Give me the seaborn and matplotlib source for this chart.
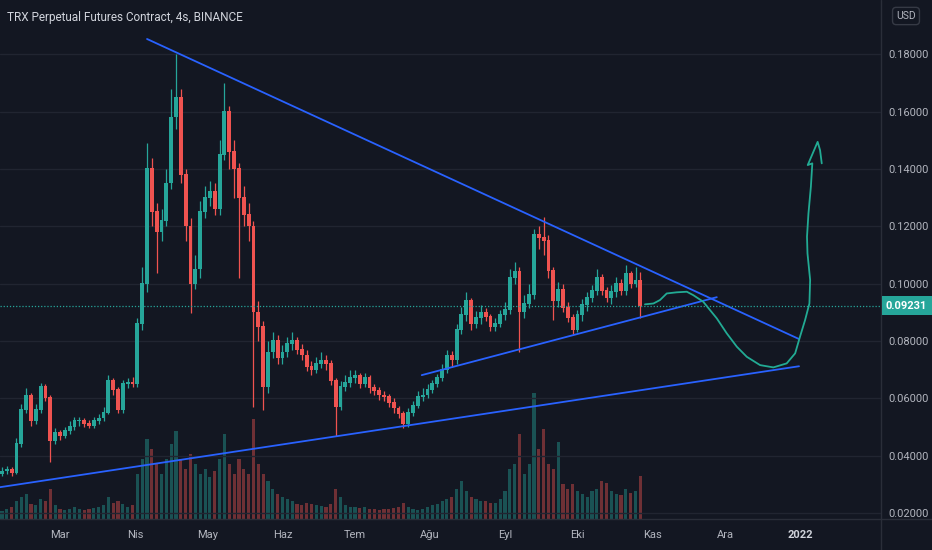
import numpy as np
import pandas as pd
import matplotlib
matplotlib.use('Agg')
import matplotlib.pyplot as plt
import seaborn as sns
from matplotlib.lines import Line2D
from matplotlib.transforms import blended_transform_factory

BG = '#131722'
GRID = '#212531'
TEXT = '#b2b5be'
UP = '#26a69a'
DOWN = '#ef5350'
TREND = '#2962ff'
BRUSH = '#22ab94'

# x axis is "days since 2021-03-01"
base = pd.Timestamp('2021-03-01')
candle_dates = pd.date_range('2021-02-05', periods=133, freq='2D')
candle_day = ((candle_dates - base) / pd.Timedelta(days=1)).to_numpy()

opens = [
    0.0335, 0.0345, 0.0350, 0.0340, 0.0440, 0.0560, 0.0610, 0.0520, 0.0560, 0.0640,
    0.0600, 0.0450, 0.0480, 0.0467, 0.0485, 0.0500, 0.0520, 0.0520, 0.0510, 0.0505,
    0.0520, 0.0530, 0.0550, 0.0660, 0.0630, 0.0560, 0.0650, 0.0655, 0.0650, 0.0860,
    0.1000, 0.1400, 0.1250, 0.1180, 0.1220, 0.1350, 0.1580, 0.1650, 0.1380, 0.1200,
    0.1000, 0.1050, 0.1250, 0.1300, 0.1320, 0.1260, 0.1450, 0.1600, 0.1460, 0.1400,
    0.1300, 0.1240, 0.1200, 0.0900, 0.0850, 0.0640, 0.0760, 0.0800, 0.0740, 0.0760,
    0.0790, 0.0800, 0.0770, 0.0750, 0.0710, 0.0700, 0.0720, 0.0730, 0.0720, 0.0660,
    0.0570, 0.0640, 0.0655, 0.0670, 0.0680, 0.0650, 0.0670, 0.0635, 0.0625, 0.0610,
    0.0605, 0.0585, 0.0565, 0.0545, 0.0510, 0.0550, 0.0575, 0.0605, 0.0610, 0.0630,
    0.0650, 0.0670, 0.0700, 0.0750, 0.0735, 0.0840, 0.0890, 0.0940, 0.0860, 0.0880,
    0.0900, 0.0885, 0.0850, 0.0860, 0.0890, 0.0910, 0.1020, 0.1040, 0.0900, 0.0930,
    0.0960, 0.1170, 0.1160, 0.1150, 0.1045, 0.0940, 0.0980, 0.0915, 0.0880, 0.0840,
    0.0890, 0.0925, 0.0950, 0.0975, 0.1020, 0.0975, 0.0950, 0.0970, 0.1000, 0.0975,
    0.1035, 0.1000, 0.1010]

highs = [
    0.0360, 0.0365, 0.0360, 0.0460, 0.0580, 0.0635, 0.0620, 0.0580, 0.0652, 0.0650,
    0.0610, 0.0495, 0.0490, 0.0500, 0.0520, 0.0535, 0.0535, 0.0530, 0.0525, 0.0535,
    0.0545, 0.0570, 0.0680, 0.0670, 0.0640, 0.0665, 0.0670, 0.0675, 0.0880, 0.1060,
    0.1490, 0.1440, 0.1280, 0.1260, 0.1400, 0.1680, 0.1800, 0.1680, 0.1400, 0.1230,
    0.1100, 0.1290, 0.1340, 0.1360, 0.1350, 0.1500, 0.1700, 0.1620, 0.1500, 0.1420,
    0.1340, 0.1280, 0.1220, 0.0940, 0.0870, 0.0800, 0.0830, 0.0820, 0.0785, 0.0815,
    0.0830, 0.0815, 0.0790, 0.0770, 0.0730, 0.0745, 0.0760, 0.0750, 0.0735, 0.0670,
    0.0660, 0.0680, 0.0700, 0.0700, 0.0690, 0.0690, 0.0680, 0.0650, 0.0640, 0.0625,
    0.0615, 0.0600, 0.0575, 0.0555, 0.0565, 0.0590, 0.0625, 0.0635, 0.0650, 0.0665,
    0.0685, 0.0720, 0.0770, 0.0765, 0.0860, 0.0920, 0.0970, 0.0950, 0.0905, 0.0925,
    0.0915, 0.0895, 0.0880, 0.0910, 0.0935, 0.1050, 0.1075, 0.1060, 0.0960, 0.1000,
    0.1190, 0.1200, 0.1233, 0.1170, 0.1060, 0.1005, 0.1000, 0.0935, 0.0895, 0.0910,
    0.0945, 0.0970, 0.0995, 0.1053, 0.1035, 0.0990, 0.0995, 0.1025, 0.1015, 0.1065,
    0.1045, 0.1058, 0.1040]

lows = [
    0.0330, 0.0335, 0.0330, 0.0335, 0.0430, 0.0550, 0.0505, 0.0510, 0.0550, 0.0590,
    0.0378, 0.0440, 0.0455, 0.0460, 0.0475, 0.0490, 0.0505, 0.0500, 0.0495, 0.0495,
    0.0510, 0.0520, 0.0545, 0.0610, 0.0550, 0.0550, 0.0635, 0.0640, 0.0640, 0.0840,
    0.0970, 0.1200, 0.1037, 0.1150, 0.1200, 0.1330, 0.1540, 0.1350, 0.1150, 0.0898,
    0.0980, 0.1020, 0.1230, 0.1270, 0.1240, 0.1240, 0.1430, 0.1400, 0.1300, 0.1020,
    0.1200, 0.1150, 0.0570, 0.0800, 0.0560, 0.0620, 0.0740, 0.0720, 0.0720, 0.0745,
    0.0770, 0.0755, 0.0735, 0.0695, 0.0680, 0.0690, 0.0705, 0.0700, 0.0645, 0.0470,
    0.0560, 0.0625, 0.0640, 0.0655, 0.0635, 0.0640, 0.0620, 0.0610, 0.0595, 0.0590,
    0.0570, 0.0550, 0.0530, 0.0495, 0.0500, 0.0540, 0.0565, 0.0590, 0.0600, 0.0620,
    0.0640, 0.0660, 0.0690, 0.0710, 0.0720, 0.0825, 0.0870, 0.0840, 0.0845, 0.0860,
    0.0870, 0.0835, 0.0835, 0.0850, 0.0875, 0.0895, 0.1000, 0.0761, 0.0880, 0.0915,
    0.0945, 0.1120, 0.1100, 0.1020, 0.0873, 0.0920, 0.0900, 0.0865, 0.0826, 0.0830,
    0.0870, 0.0905, 0.0935, 0.0960, 0.0960, 0.0935, 0.0930, 0.0955, 0.0960, 0.0960,
    0.0985, 0.0990, 0.0880]

closes = [
    0.0345, 0.0350, 0.0340, 0.0440, 0.0560, 0.0610, 0.0520, 0.0560, 0.0640, 0.0600,
    0.0450, 0.0480, 0.0467, 0.0485, 0.0500, 0.0520, 0.0520, 0.0510, 0.0505, 0.0520,
    0.0530, 0.0550, 0.0660, 0.0630, 0.0560, 0.0650, 0.0655, 0.0650, 0.0860, 0.1000,
    0.1400, 0.1250, 0.1180, 0.1220, 0.1350, 0.1580, 0.1650, 0.1380, 0.1200, 0.1000,
    0.1050, 0.1250, 0.1300, 0.1320, 0.1260, 0.1450, 0.1600, 0.1460, 0.1400, 0.1300,
    0.1240, 0.1200, 0.0900, 0.0850, 0.0640, 0.0760, 0.0800, 0.0740, 0.0760, 0.0790,
    0.0800, 0.0770, 0.0750, 0.0710, 0.0700, 0.0720, 0.0730, 0.0720, 0.0660, 0.0570,
    0.0640, 0.0655, 0.0670, 0.0680, 0.0650, 0.0670, 0.0635, 0.0625, 0.0610, 0.0605,
    0.0585, 0.0565, 0.0545, 0.0510, 0.0550, 0.0575, 0.0605, 0.0610, 0.0630, 0.0650,
    0.0670, 0.0700, 0.0750, 0.0735, 0.0840, 0.0890, 0.0940, 0.0860, 0.0880, 0.0900,
    0.0885, 0.0850, 0.0860, 0.0890, 0.0910, 0.1020, 0.1040, 0.0900, 0.0930, 0.0960,
    0.1170, 0.1160, 0.1150, 0.1045, 0.0940, 0.0980, 0.0915, 0.0880, 0.0840, 0.0890,
    0.0925, 0.0950, 0.0975, 0.1020, 0.0975, 0.0950, 0.0970, 0.1000, 0.0975, 0.1035,
    0.1000, 0.1010, 0.09231]

# volume, arbitrary units (pane is 519 units tall)
volume = [
    8, 10, 12, 18, 22, 25, 15, 14, 20, 18,
    30, 14, 10, 9, 10, 12, 10, 9, 10, 11,
    12, 14, 22, 16, 18, 15, 12, 14, 45, 60,
    80, 70, 55, 45, 60, 75, 88, 60, 50, 65,
    55, 45, 50, 42, 48, 60, 85, 55, 45, 60,
    50, 45, 100, 55, 45, 38, 30, 25, 22, 20,
    18, 15, 14, 16, 15, 14, 13, 12, 15, 30,
    22, 14, 12, 12, 11, 12, 10, 10, 9, 10,
    10, 11, 12, 16, 12, 10, 9, 10, 12, 14,
    15, 18, 20, 22, 30, 38, 28, 22, 20, 18,
    18, 16, 16, 20, 28, 50, 55, 85, 45, 55,
    126, 70, 90, 55, 50, 77, 35, 30, 35, 28,
    25, 22, 28, 30, 38, 36, 28, 25, 24, 30,
    26, 28, 43]

# drawn trend lines: (day, price) end points
upper_day, upper_price = [36.0, 305.6], [0.1854, 0.0807]
support_day, support_price = [-24.8, 305.6], [0.0290, 0.0712]
rising_day, rising_price = [149.6, 271.6], [0.0681, 0.0953]

# hand drawn projection
brush_day = [241.9, 245.4, 248.1, 250.9, 255.0, 259.2, 261.9, 266.0, 271.6, 275.7,
             279.9, 284.0, 289.5, 295.0, 300.5, 304.0, 306.0, 308.1, 309.9, 310.2,
             309.1, 308.9, 309.5, 310.5, 311.1, 309.2, 313.3, 314.3, 315.0]
brush_price = [0.0928, 0.0931, 0.0943, 0.0966, 0.0970, 0.0972, 0.0960, 0.0937, 0.0879, 0.0827,
               0.0780, 0.0745, 0.0716, 0.0708, 0.0722, 0.0757, 0.0815, 0.0873, 0.0931, 0.1013,
               0.1106, 0.1164, 0.1245, 0.1338, 0.1420, 0.1414, 0.1495, 0.1466, 0.1420]

month_day = [0, 31, 61, 92, 122, 153, 184, 214, 245, 275, 306]
month_label = ['Mar', 'Nis', 'May', 'Haz', 'Tem', 'Ağu', 'Eyl', 'Eki', 'Kas', 'Ara', '2022']
price_ticks = [0.02, 0.04, 0.06, 0.08, 0.10, 0.12, 0.14, 0.16, 0.18]

sns.set_theme(style='dark', rc={'axes.facecolor': BG, 'figure.facecolor': BG,
                                'text.color': TEXT, 'xtick.color': TEXT, 'ytick.color': TEXT})
plt.rcParams['font.family'] = ['Roboto', 'Liberation Sans', 'DejaVu Sans']

fig = plt.figure(figsize=(9.32, 5.5), dpi=100)
rect = [0, 31 / 550, 881 / 932, 519 / 550]
ax = fig.add_axes(rect)
ax_vol = ax.twinx()
ax.set_zorder(2)
ax_vol.set_zorder(1)
ax.patch.set_visible(False)
ax_vol.set_facecolor(BG)

o = np.array(opens)
c = np.array(closes)
colors = np.where(c >= o, UP, DOWN)

# volume
ax_vol.bar(candle_day, volume, width=1.3, color=colors, alpha=0.42, linewidth=0)
ax_vol.set_ylim(0, 519)
ax_vol.set_yticks([])
ax_vol.set_xticks(month_day)
ax_vol.grid(axis='x', color=GRID, lw=1)

# grid
for p in price_ticks:
    ax.axhline(p, color=GRID, lw=1, zorder=0)

# candles
ax.vlines(candle_day, lows, highs, colors=colors, lw=0.9)
ax.bar(candle_day, np.abs(c - o) + 0.0003, bottom=np.minimum(o, c), width=1.6,
       color=colors, linewidth=0)

# trend lines
for xs, ys in [(upper_day, upper_price), (support_day, support_price), (rising_day, rising_price)]:
    ax.plot(xs, ys, color=TREND, lw=1.3, solid_capstyle='round')

sns.lineplot(x=brush_day, y=brush_price, sort=False, estimator=None, ax=ax,
             color=BRUSH, lw=1.3)

# last price line and label
last = closes[-1]
ax.axhline(last, color=UP, lw=0.9, ls=(0, (1, 1.5)))
trans = blended_transform_factory(ax.transAxes, ax.transData)
ax.text(1.0 + 5 / 881, last, f'{last:.5f}', transform=trans, ha='left', va='center',
        color='white', fontsize=8, fontweight='bold', clip_on=False,
        bbox=dict(boxstyle='square,pad=0.4', fc=UP, ec='none'))

ax.set_xlim(-24.8, 339.5)
ax.set_ylim(0.0179, 0.199)
ax.set_xticks(month_day)
ax.set_xticklabels(month_label)
ax.set_yticks(price_ticks)
ax.set_yticklabels([f'{p:.5f}' for p in price_ticks])
ax.yaxis.tick_right()
ax.tick_params(axis='y', length=0, pad=5, labelsize=8, colors=TEXT)
ax.tick_params(axis='x', length=0, pad=8, labelsize=8, colors=TEXT)
ax_vol.tick_params(axis='both', length=0, labelbottom=False)
for lbl in ax.get_xticklabels():
    if lbl.get_text() == '2022':
        lbl.set_fontweight('bold')
        lbl.set_color('#d1d4dc')
for a in (ax, ax_vol):
    for s in a.spines.values():
        s.set_visible(False)

# pane separators
fig.add_artist(Line2D([881 / 932, 881 / 932], [0, 1], color='#2a2e39', lw=1))
fig.add_artist(Line2D([0, 1], [31 / 550, 31 / 550], color='#2a2e39', lw=1))

fig.text(7 / 932, 1 - 17 / 550, 'TRX Perpetual Futures Contract, 4s, BINANCE',
         color='#d1d4dc', fontsize=8.5, va='center', ha='left')
fig.text(906 / 932, 1 - 16 / 550, 'USD', color=TEXT, fontsize=7.5, va='center', ha='center',
         bbox=dict(boxstyle='round,pad=0.35', fc=BG, ec='#363a45'))

fig.savefig('out.png', dpi=100, facecolor=BG)
